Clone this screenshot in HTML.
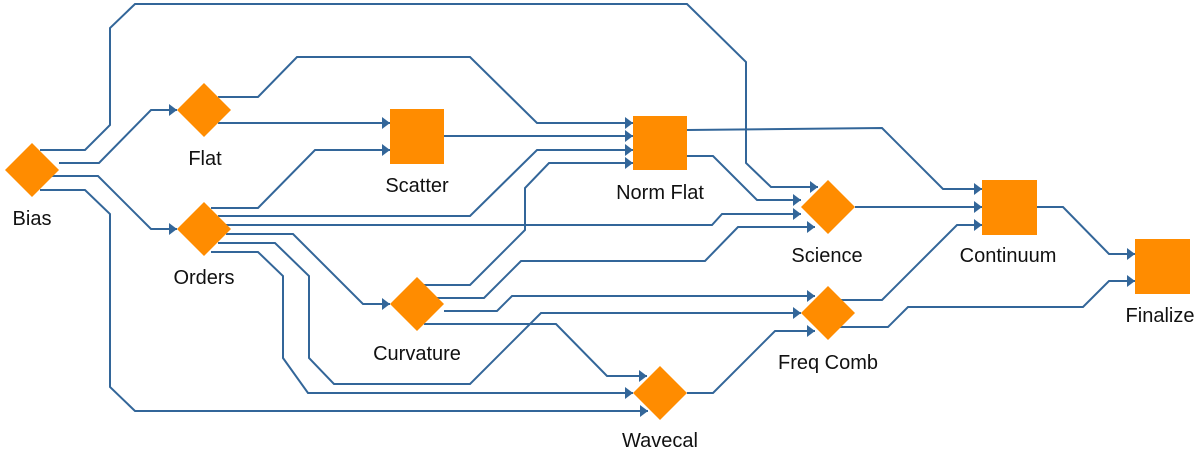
<!DOCTYPE html>
<html><head><meta charset="utf-8"><style>
html,body{margin:0;padding:0;background:#fff;width:1200px;height:452px;overflow:hidden}
text{font-family:"Liberation Sans",Arial,sans-serif;font-size:20px;fill:#111;text-anchor:middle}
</style></head><body>
<svg width="1200" height="452" viewBox="0 0 1200 452" xmlns="http://www.w3.org/2000/svg">
<defs>
<marker id="a" markerWidth="8" markerHeight="12" refX="8" refY="6" orient="auto" markerUnits="userSpaceOnUse">
<path d="M0,0 L8,6 L0,12 z" fill="#336699"/>
</marker>
</defs>
<g fill="none" stroke="#336699" stroke-width="2" marker-end="url(#a)">
<polyline points="40,150 85,150 110,125 110,28 135,4 687,4 746,62 746,163 771,187 818,187"/>
<polyline points="59,163 99,163 151,110 177,110"/>
<polyline points="52,176 98,176 151,229 177,229"/>
<polyline points="40,190 85,190 110,214 110,387 135,411 648,411"/>
<polyline points="218,97 258,97 297,57 470,57 537,123 633,123"/>
<polyline points="218,123 390,123"/>
<polyline points="211,208 258,208 315,150 390,150"/>
<polyline points="218,216 470,216 537,150 633,150"/>
<polyline points="226,225 712,225 722,214 801,214"/>
<polyline points="226,234 293,234 363,304 390,304"/>
<polyline points="218,243 275,243 309,276 309,358 334,384 470,384 541,313 801,313"/>
<polyline points="211,252 258,252 283,276 283,358 308,393 633,393"/>
<polyline points="444,136 633,136"/>
<polyline points="424,285 470,285 525,230 525,188 549,163 633,163"/>
<polyline points="437,298 484,298 521,261 705,261 738,227 815,227"/>
<polyline points="444,311 497,311 512,296 815,296"/>
<polyline points="424,324 556,324 607,376 647,376"/>
<polyline points="687,130 882,128 943,189 982,189"/>
<polyline points="687,156 713,156 757,200 801,200"/>
<polyline points="855,207 982,207"/>
<polyline points="835,300 882,300 957,225 982,225"/>
<polyline points="835,327 888,327 908,307 1083,307 1109,281 1135,281"/>
<polyline points="1037,207 1063,207 1109,254 1135,254"/>
<polyline points="687,393 713,393 775,331 815,331"/>
</g>
<g fill="#FF8C00">
<polygon points="32,143 59,170 32,197 5,170"/>
<polygon points="204,83 231,110 204,137 177,110"/>
<polygon points="204,202 231,229 204,256 177,229"/>
<rect x="390" y="109" width="54" height="55"/>
<rect x="633" y="116" width="54" height="54"/>
<polygon points="828,180 855,207 828,234 801,207"/>
<polygon points="417,277 444,304 417,331 390,304"/>
<polygon points="828,286 855,313 828,340 801,313"/>
<polygon points="660,366 687,393 660,420 633,393"/>
<rect x="982" y="180" width="55" height="55"/>
<rect x="1135" y="239" width="55" height="55"/>
</g>
<text x="32" y="225">Bias</text>
<text x="205" y="165">Flat</text>
<text x="204" y="284">Orders</text>
<text x="417" y="192">Scatter</text>
<text x="660" y="199">Norm Flat</text>
<text x="827" y="262">Science</text>
<text x="417" y="360">Curvature</text>
<text x="828" y="369">Freq Comb</text>
<text x="660" y="447">Wavecal</text>
<text x="1008" y="262">Continuum</text>
<text x="1160" y="322">Finalize</text>
</svg>
</body></html>
